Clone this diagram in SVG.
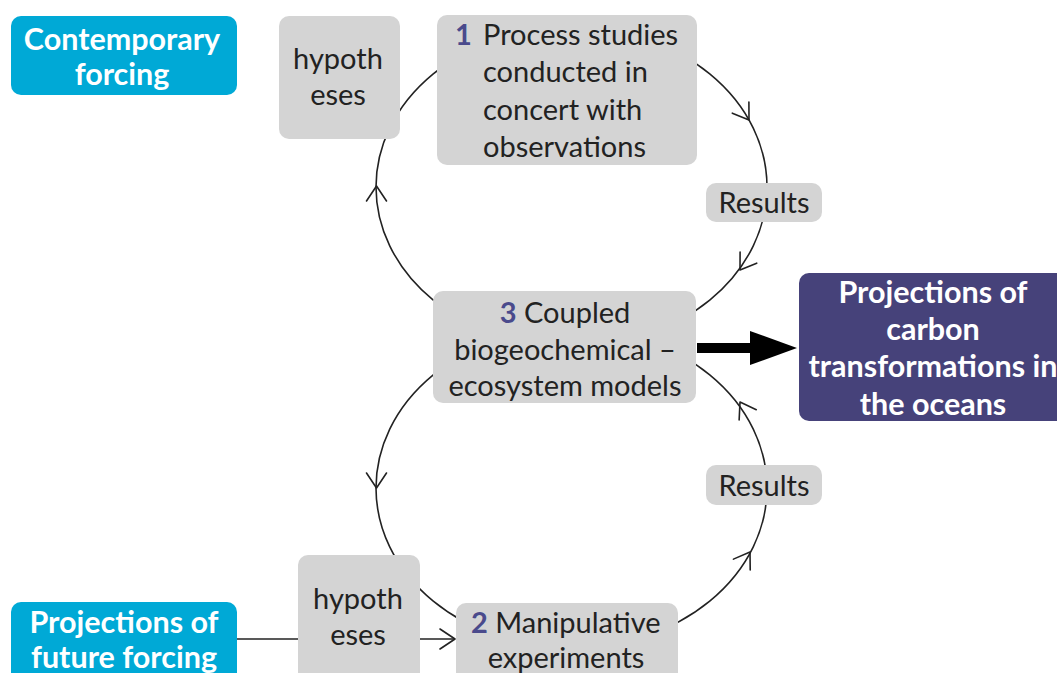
<svg xmlns="http://www.w3.org/2000/svg" width="1057" height="673" viewBox="0 0 1057 673">
<style>
.box{fill:#d4d4d4}
.cyan{fill:#00a9d6}
.purple{fill:#46427a}
.t{font-family:Lato,"Open Sans",sans-serif;font-size:29px;fill:#222}
.w{font-family:Lato,"Open Sans",sans-serif;font-size:30.5px;fill:#fff;font-weight:bold}
.n{fill:#4a4a8c;font-weight:bold}
.c{text-anchor:middle}
.curve{fill:none;stroke:#222;stroke-width:1.6}
.head{fill:none;stroke:#222;stroke-width:1.6;stroke-linecap:round;stroke-linejoin:round}
</style>
<defs>
<path id="chev" d="M-15,-10 L0,0 L-15,10"/>
</defs>
<rect width="1057" height="673" fill="#fff"/>
<g id="connectors">
<ellipse class="curve" cx="571.5" cy="187" rx="195.5" ry="160"/>
<ellipse class="curve" cx="571.5" cy="488" rx="195.5" ry="160"/>
<line class="curve" x1="237" y1="639" x2="298" y2="639"/>
<line class="curve" x1="420" y1="639" x2="455" y2="639"/>
<use href="#chev" class="head" transform="translate(455,639)"/>
<use href="#chev" class="head" transform="translate(749,120) rotate(56)"/>
<use href="#chev" class="head" transform="translate(740,270) rotate(124)"/>
<use href="#chev" class="head" transform="translate(376.5,186) rotate(-90)"/>
<use href="#chev" class="head" transform="translate(376.5,488) rotate(90)"/>
<use href="#chev" class="head" transform="translate(750,552) rotate(-57)"/>
<use href="#chev" class="head" transform="translate(740,402) rotate(-121)"/>
<rect x="697" y="343" width="55" height="10" fill="#000"/>
<polygon points="750,331 797,348 750,365" fill="#000"/>
</g>
<g id="contemporary">
<rect class="cyan" x="11" y="16" width="226" height="79" rx="10"/>
<text class="w c" x="122" y="50">Contemporary</text>
<text class="w c" x="122" y="85">forcing</text>
</g>
<g id="hypotheses-top">
<rect class="box" x="279" y="16" width="121" height="123" rx="10"/>
<text class="t c" x="338" y="69">hypoth</text>
<text class="t c" x="338" y="105">eses</text>
</g>
<g id="process-studies">
<rect class="box" x="437" y="15" width="260" height="150" rx="10"/>
<text class="t n" x="455" y="45">1</text>
<text class="t" x="483" y="45">Process studies</text>
<text class="t" x="483" y="82">conducted in</text>
<text class="t" x="483" y="120">concert with</text>
<text class="t" x="483" y="157">observations</text>
</g>
<g id="results-top">
<rect class="box" x="706" y="183" width="116" height="39" rx="10"/>
<text class="t c" x="764" y="213">Results</text>
</g>
<g id="coupled-models">
<rect class="box" x="433" y="291" width="263" height="112" rx="10"/>
<text class="t c" x="565" y="323"><tspan class="n">3</tspan> Coupled</text>
<text class="t c" x="565" y="360">biogeochemical –</text>
<text class="t c" x="565" y="396">ecosystem models</text>
</g>
<g id="projections-carbon">
<rect class="purple" x="799" y="273" width="280" height="148" rx="10"/>
<text class="w c" x="933" y="303">Projections of</text>
<text class="w c" x="933" y="340">carbon</text>
<text class="w c" x="933" y="377">transformations in</text>
<text class="w c" x="933" y="415">the oceans</text>
</g>
<g id="results-bottom">
<rect class="box" x="706" y="465" width="116" height="40" rx="10"/>
<text class="t c" x="764" y="496">Results</text>
</g>
<g id="hypotheses-bottom">
<rect class="box" x="298" y="555" width="122" height="130" rx="10"/>
<text class="t c" x="358" y="609">hypoth</text>
<text class="t c" x="358" y="645">eses</text>
</g>
<g id="future-forcing">
<rect class="cyan" x="11" y="602" width="226" height="90" rx="10"/>
<text class="w c" x="124" y="633">Projections of</text>
<text class="w c" x="124" y="668">future forcing</text>
</g>
<g id="manipulative">
<rect class="box" x="456" y="603" width="222" height="90" rx="10"/>
<text class="t" x="471" y="633"><tspan class="n">2</tspan> Manipulative</text>
<text class="t c" x="566" y="668">experiments</text>
</g>
</svg>
